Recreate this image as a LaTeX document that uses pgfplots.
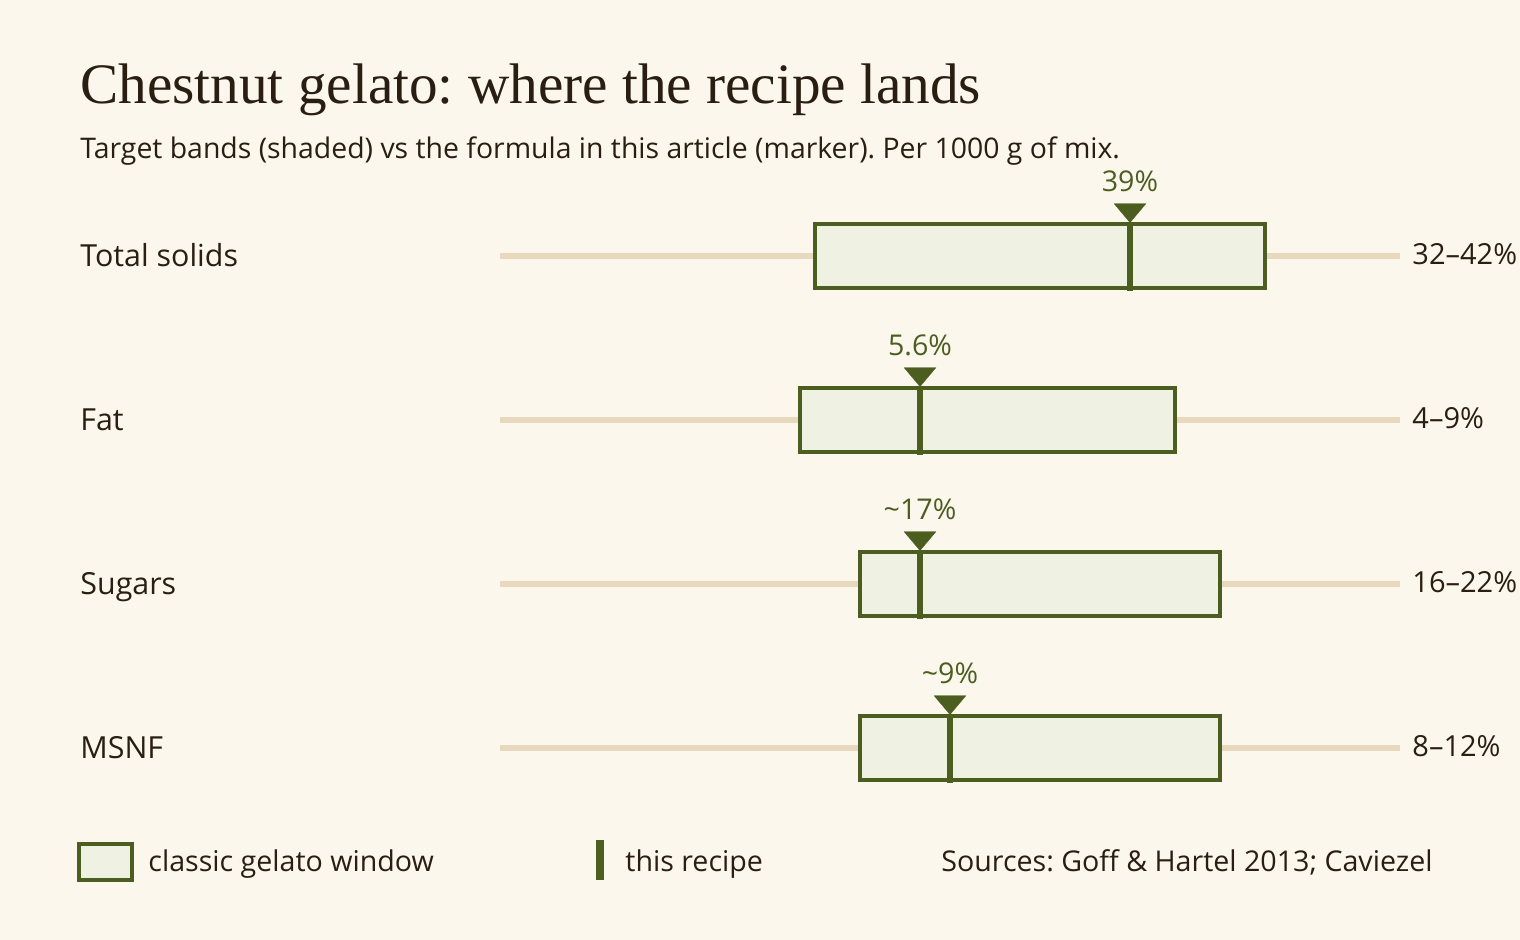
\documentclass[border=0pt]{standalone}
\usepackage{pgfplots}
\pgfplotsset{compat=1.18}
\usepackage{fontspec}
\setmainfont{Open Sans}
\newfontfamily\titlefont{Liberation Serif}
\frenchspacing
\definecolor{bg}{HTML}{FBF7EC}
\definecolor{gdark}{HTML}{4B5E20}
\definecolor{gfill}{HTML}{EFF2E3}
\definecolor{trk}{HTML}{E8D8BE}
\definecolor{ink}{HTML}{2A1E12}

\pgfplotsset{rowaxis/.style={width=450pt,height=40pt,scale only axis,hide axis,
  ymin=-40,ymax=40,clip=false,anchor=west}}
\tikzset{
  trackline/.style={trk,line width=3pt},
  band/.style={draw=gdark,fill=gfill,line width=2.1pt},
  recline/.style={gdark,line width=3.2pt},
  tri/.style={gdark,only marks,mark=triangle*,mark size=9.24pt,
     mark options={rotate=180,yscale=0.685,fill=gdark,draw=gdark,line width=0.1pt}},
  vlab/.style={anchor=base,inner sep=0pt,text=gdark,font=\fontsize{14.3}{17}\selectfont},
  rlab/.style={anchor=base west,inner sep=0pt,xshift=6pt,text=ink,font=\fontsize{14.5}{17}\selectfont},
  namelab/.style={anchor=base west,inner sep=0pt,text=ink,font=\fontsize{15.2}{18}\selectfont},
  leglab/.style={anchor=base west,inner sep=0pt,text=ink,font=\fontsize{14.3}{17}\selectfont}
}

\begin{document}
\begin{tikzpicture}
\fill[bg] (0,0) rectangle (760pt,470pt);
\path[use as bounding box] (0,0) rectangle (760pt,470pt);

\node[anchor=base west,inner sep=0pt,text=ink,font=\titlefont\fontsize{28.6}{34}\selectfont]
  at (40pt,418pt) {Chestnut gelato: where the recipe lands};
\node[anchor=base west,inner sep=0pt,text=ink,font=\fontsize{14.2}{17}\selectfont]
  at (40pt,390.5pt) {Target bands (shaded) vs the formula in this article (marker). Per 1000 g of mix.};

% Row names
\node[namelab] at (40pt,336.5pt) {Total solids};
\node[namelab] at (40pt,254.5pt) {Fat};
\node[namelab] at (40pt,172.5pt) {Sugars};
\node[namelab] at (40pt,90.5pt) {MSNF};

% Total solids: scale 25..45
\begin{axis}[rowaxis,at={(250pt,342pt)},xmin=25,xmax=45]
\addplot[trackline] coordinates {(25,0) (45,0)};
\addplot[band] coordinates {(32,-32) (42,-32) (42,32) (32,32)} --cycle;
\addplot[recline] coordinates {(39,-35) (39,33)};
\addplot[tri] coordinates {(39,46)};
\node[vlab] at (axis cs:39,64) {39\%};
\node[rlab] at (axis cs:45,-9) {32–42\%};
\end{axis}

% Fat: scale 0..12
\begin{axis}[rowaxis,at={(250pt,260pt)},xmin=0,xmax=12]
\addplot[trackline] coordinates {(0,0) (12,0)};
\addplot[band] coordinates {(4,-32) (9,-32) (9,32) (4,32)} --cycle;
\addplot[recline] coordinates {(5.6,-35) (5.6,33)};
\addplot[tri] coordinates {(5.6,46)};
\node[vlab] at (axis cs:5.6,64) {5.6\%};
\node[rlab] at (axis cs:12,-9) {4–9\%};
\end{axis}

% Sugars: scale 10..25
\begin{axis}[rowaxis,at={(250pt,178pt)},xmin=10,xmax=25]
\addplot[trackline] coordinates {(10,0) (25,0)};
\addplot[band] coordinates {(16,-32) (22,-32) (22,32) (16,32)} --cycle;
\addplot[recline] coordinates {(17,-35) (17,33)};
\addplot[tri] coordinates {(17,46)};
\node[vlab] at (axis cs:17,64) {{\char`\~}17\%};
\node[rlab] at (axis cs:25,-9) {16–22\%};
\end{axis}

% MSNF: scale 4..14
\begin{axis}[rowaxis,at={(250pt,96pt)},xmin=4,xmax=14]
\addplot[trackline] coordinates {(4,0) (14,0)};
\addplot[band] coordinates {(8,-32) (12,-32) (12,32) (8,32)} --cycle;
\addplot[recline] coordinates {(9,-35) (9,33)};
\addplot[tri] coordinates {(9,46)};
\node[vlab] at (axis cs:9,64) {{\char`\~}9\%};
\node[rlab] at (axis cs:14,-9) {8–12\%};
\end{axis}

% Legend
\draw[gdark,line width=2pt,fill=gfill] (39.5pt,30pt) rectangle (66pt,48pt);
\node[leglab] at (74pt,34pt) {classic gelato window};
\draw[gdark,line width=4pt] (300pt,30pt) -- (300pt,50pt);
\node[leglab] at (312.5pt,34pt) {this recipe};
\node[leglab] at (470.5pt,34pt) {Sources: Goff \& Hartel 2013; Caviezel};
\end{tikzpicture}
\end{document}
